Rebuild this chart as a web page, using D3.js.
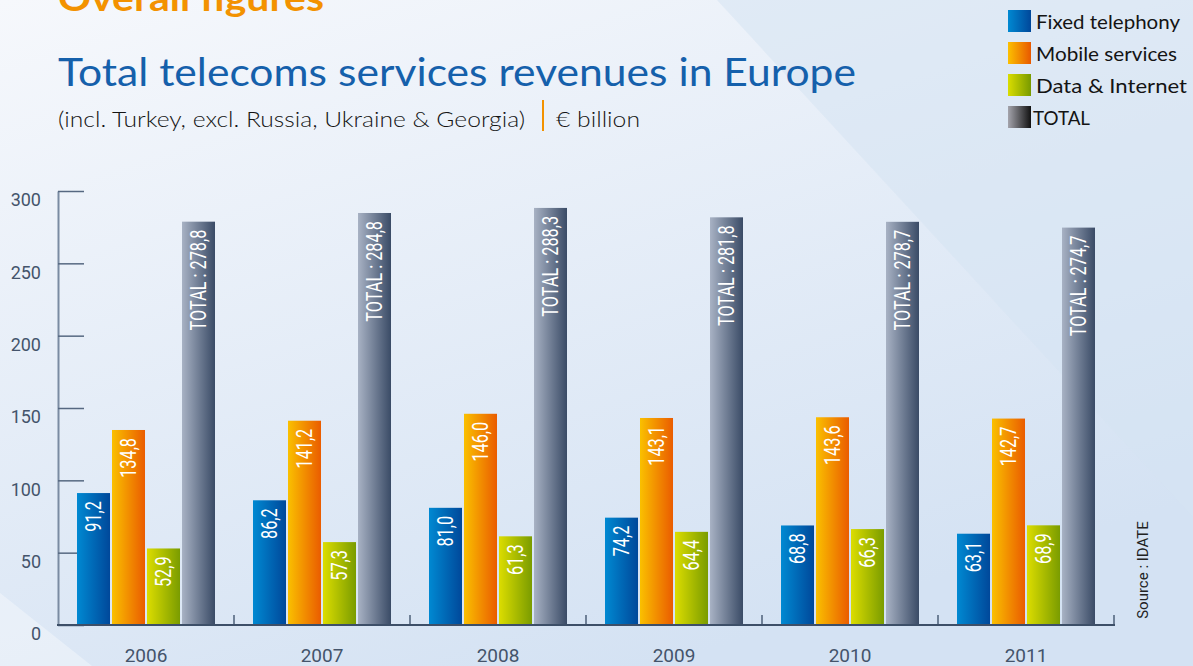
<!DOCTYPE html>
<html>
<head>
<meta charset="utf-8">
<script src="https://cdn.jsdelivr.net/npm/d3@7"></script>
<style>
  html, body { margin: 0; padding: 0; background: #e6edf7; }
  svg { display: block; }
</style>
</head>
<body>
<div id="chart"></div>
<script>
// data (EUR billion)
var years    = ["2006", "2007", "2008", "2009", "2010", "2011"];
var series   = ["Fixed telephony", "Mobile services", "Data & Internet", "TOTAL"];
var fixed    = [91.2, 86.2, 81.0, 74.2, 68.8, 63.1];
var mobile   = [134.8, 141.2, 146.0, 143.1, 143.6, 142.7];
var dataNet  = [52.9, 57.3, 61.3, 64.4, 66.3, 68.9];
var total    = [278.8, 284.8, 288.3, 281.8, 278.7, 274.7];
var yTicks   = [0, 50, 100, 150, 200, 250, 300];

var W = 1193, H = 666;
var values = [fixed, mobile, dataNet, total];

// bar gradients, left -> right
var barColors = [
    ["#0089d2", "#00489a"],
    ["#fac000", "#ea5c00"],
    ["#dcdd00", "#7a9c00"],
    ["#a8b2c4", "#3a4b66"]
];
var legendColors = [
    ["#0089d2", "#00479a"],
    ["#fcc000", "#e85800"],
    ["#dadd00", "#789a00"],
    ["#a4a4ac", "#111111"]
];

var svg = d3.select("#chart")
    .append("svg")
    .attr("width", W)
    .attr("height", H);

var defs = svg.append("defs");

var bg = defs.append("linearGradient")
    .attr("id", "bg")
    .attr("x1", 0).attr("y1", 0)
    .attr("x2", 0.55).attr("y2", 1);
bg.append("stop").attr("offset", "0%").attr("stop-color", "#f6f8fc");
bg.append("stop").attr("offset", "100%").attr("stop-color", "#d4e2f3");

function hGrad(id, c) {
    var g = defs.append("linearGradient")
	.attr("id", id)
	.attr("x1", 0).attr("y1", 0)
	.attr("x2", 1).attr("y2", 0);
    g.append("stop").attr("offset", "0%").attr("stop-color", c[0]);
    g.append("stop").attr("offset", "100%").attr("stop-color", c[1]);
}
barColors.forEach(function(c, i) { hGrad("bar" + i, c); });
legendColors.forEach(function(c, i) { hGrad("leg" + i, c); });

// background
svg.append("rect")
    .attr("width", W)
    .attr("height", H)
    .attr("fill", "url(#bg)");
svg.append("polygon")
    .attr("points", "717,0 1193,0 1193,517")
    .attr("fill", "#d6e3f3")
    .attr("opacity", 0.55);
svg.append("polygon")
    .attr("points", "0,593 92,666 0,666")
    .attr("fill", "#ffffff")
    .attr("opacity", 0.35);

// headings
svg.append("text")
    .attr("x", 58)
    .attr("y", 11)
    .attr("font-family", "Lato, 'Open Sans', sans-serif")
    .attr("font-weight", "bold")
    .attr("font-size", 36)
    .attr("fill", "#f39200")
    .attr("textLength", 266)
    .attr("lengthAdjust", "spacingAndGlyphs")
    .text("Overall figures");

svg.append("text")
    .attr("x", 58)
    .attr("y", 86)
    .attr("font-family", "Lato, 'Open Sans', sans-serif")
    .attr("font-size", 38)
    .attr("fill", "#1560ab")
    .attr("textLength", 798)
    .attr("lengthAdjust", "spacingAndGlyphs")
    .text("Total telecoms services revenues in Europe");

svg.append("text")
    .attr("x", 58)
    .attr("y", 127)
    .attr("font-family", "Lato, 'Open Sans', sans-serif")
    .attr("font-weight", 300)
    .attr("font-size", 21)
    .attr("fill", "#141414")
    .attr("textLength", 467)
    .attr("lengthAdjust", "spacingAndGlyphs")
    .text("(incl. Turkey, excl. Russia, Ukraine & Georgia)");

svg.append("line")
    .attr("x1", 543).attr("x2", 543)
    .attr("y1", 100).attr("y2", 131)
    .attr("stroke", "#f39200")
    .attr("stroke-width", 2);

svg.append("text")
    .attr("x", 556)
    .attr("y", 127)
    .attr("font-family", "Lato, 'Open Sans', sans-serif")
    .attr("font-weight", 300)
    .attr("font-size", 21)
    .attr("fill", "#141414")
    .attr("textLength", 84)
    .attr("lengthAdjust", "spacingAndGlyphs")
    .text("€ billion");

// legend
var legendW = [144, 141, 151, 57];
var legend = svg.append("g")
    .selectAll("g")
    .data(series)
    .join("g")
    .attr("transform", function(d, i) { return "translate(1008," + (10 + i * 32) + ")"; });
legend.append("rect")
    .attr("width", 23)
    .attr("height", 22)
    .attr("fill", function(d, i) { return "url(#leg" + i + ")"; });
legend.append("text")
    .attr("x", function(d, i) { return i == 3 ? 25 : 28; })
    .attr("y", 19)
    .attr("font-family", "Lato, 'Open Sans', sans-serif")
    .attr("font-size", 19)
    .attr("fill", "#141414")
    .attr("textLength", function(d, i) { return legendW[i]; })
    .attr("lengthAdjust", "spacingAndGlyphs")
    .text(function(d) { return d; });

// scales
var x0 = d3.scaleBand()
    .domain(years)
    .range([58, 1114])
    .padding(0);
var x1 = d3.scaleBand()
    .domain(d3.range(series.length))
    .range([19, x0.bandwidth() - 19])
    .paddingInner(0.057)
    .paddingOuter(0);
var y = d3.scaleLinear()
    .domain([0, 300])
    .range([625, 191]);

// y axis
var yAxis = svg.append("g")
    .attr("transform", "translate(58,0)")
    .call(d3.axisLeft(y)
	  .tickValues(yTicks)
	  .tickSizeInner(-26)
	  .tickSizeOuter(0)
	  .tickPadding(17));
yAxis.select(".domain")
    .attr("stroke", "#7a8ba2")
    .attr("stroke-width", 2);
yAxis.selectAll(".tick line")
    .attr("stroke", "#566881")
    .attr("stroke-width", 1.5);
yAxis.selectAll(".tick text")
    .attr("y", 9)
    .attr("font-family", "Roboto, sans-serif")
    .attr("font-size", 18)
    .attr("fill", "#44546b");

// bars
var fmt = d3.format(".1f");
var groups = svg.append("g")
    .selectAll("g")
    .data(years)
    .join("g")
    .attr("transform", function(d) { return "translate(" + x0(d) + ",0)"; });

var bars = groups.selectAll("g")
    .data(function(d, yi) { return values.map(function(v, si) { return {s: si, v: v[yi]}; }); })
    .join("g");

bars.append("rect")
    .attr("x", function(d) { return x1(d.s); })
    .attr("y", function(d) { return y(d.v); })
    .attr("width", x1.bandwidth())
    .attr("height", function(d) { return y(0) - y(d.v); })
    .attr("fill", function(d) { return "url(#bar" + d.s + ")"; });

bars.append("text")
    .attr("transform", function(d) {
	return "translate(" + (x1(d.s) + x1.bandwidth() / 2) + "," + (y(d.v) + 8) + ") rotate(-90) scale(0.74,1)";
    })
    .attr("text-anchor", "end")
    .attr("dy", "0.36em")
    .attr("font-family", "Roboto, sans-serif")
    .attr("font-size", 22)
    .attr("fill", "#ffffff")
    .text(function(d) {
	var s = fmt(d.v).replace(".", ",");
	return d.s == 3 ? "TOTAL : " + s : s;
    });

// x baseline with group separators
svg.append("g")
    .selectAll("line")
    .data(years)
    .join("line")
    .attr("x1", function(d) { return x0(d) + x0.bandwidth(); })
    .attr("x2", function(d) { return x0(d) + x0.bandwidth(); })
    .attr("y1", 615)
    .attr("y2", 625)
    .attr("stroke", "#4d5f78")
    .attr("stroke-width", 1.5);

svg.append("line")
    .attr("x1", 57).attr("x2", 1115)
    .attr("y1", y(0)).attr("y2", y(0))
    .attr("stroke", "#3d4f68")
    .attr("stroke-width", 2);

svg.append("g")
    .selectAll("text")
    .data(years)
    .join("text")
    .attr("x", function(d) { return x0(d) + x0.bandwidth() / 2; })
    .attr("y", 662)
    .attr("text-anchor", "middle")
    .attr("font-family", "Roboto, sans-serif")
    .attr("font-size", 19)
    .attr("fill", "#44546b")
    .text(function(d) { return d; });

// source
svg.append("text")
    .attr("transform", "translate(1143,570) rotate(-90)")
    .attr("text-anchor", "middle")
    .attr("dy", "0.35em")
    .attr("font-family", "Roboto, sans-serif")
    .attr("font-size", 15)
    .attr("fill", "#222222")
    .text("Source : IDATE");
</script>
</body>
</html>
